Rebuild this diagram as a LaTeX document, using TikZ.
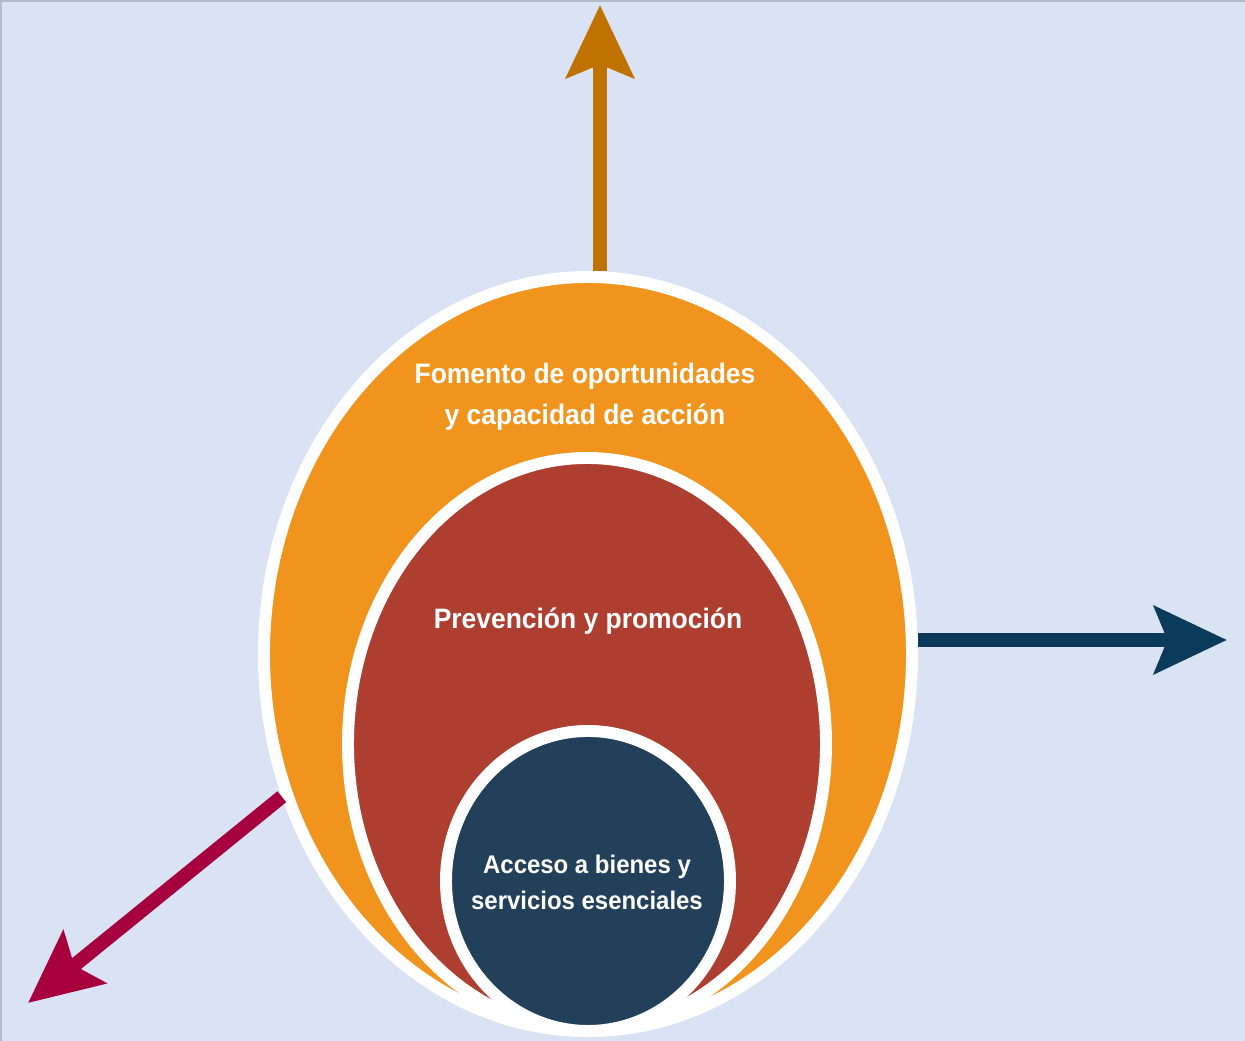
\documentclass[tikz,border=0pt]{standalone}
\usepackage{fontspec}
\newfontfamily\lblfont[FakeStretch=0.94]{Liberation Sans}
\usetikzlibrary{shapes.geometric, arrows.meta}
\definecolor{bgblue}{HTML}{DAE3F3}
\definecolor{frame}{HTML}{B4BCC8}
\definecolor{orangefill}{HTML}{F0941E}
\definecolor{redfill}{HTML}{AD3E30}
\definecolor{navyfill}{HTML}{22405A}
\definecolor{upcol}{HTML}{C07200}
\definecolor{rightcol}{HTML}{0C3A5A}
\definecolor{leftcol}{HTML}{A6003E}

\begin{document}
\begin{tikzpicture}[x=0.2mm, y=0.2mm,
    ring/.style={ellipse, draw=white, line width=6.8pt, inner sep=0pt},
    lbl/.style={text=white, align=center,
        font=\lblfont\bfseries\fontsize{16}{23.5}\selectfont},
    bigarrow/.style={line width=2.8mm,
        -{Stealth[length=14.5mm, width=13.4mm, inset=2.6mm]}}]
    \useasboundingbox (0,0) rectangle (1245,1041);
    \fill[bgblue] (0,0) rectangle (1245,1041);
    \draw[frame, line width=0.8mm] (0,0) -- (0,1041) -- (1245,1041);

    % nested ellipses
    \node[ring, fill=orangefill, minimum width=129.6mm, minimum height=150.8mm] (outer) at (588,387) {};
    \node[ring, fill=redfill, minimum width=95.6mm, minimum height=114.4mm] (middle) at (587,297) {};
    \node[ring, fill=navyfill, minimum width=56.8mm, minimum height=60mm] (inner) at (588,160) {};

    \node[lbl] (outerlbl) at (585,644) {Fomento de oportunidades\\y capacidad de acción};
    \node[lbl] (middlelbl) at (588,420) {Prevención y promoción};
    \node[lbl, font=\lblfont\bfseries\fontsize{14.5}{20.5}\selectfont] (innerlbl) at (587,159) {Acceso a bienes y\\servicios esenciales};

    % arrows
    \coordinate (uptip) at (600,1036);
    \coordinate (righttip) at (1227,401);
    \coordinate (lefttip) at (28,38);
    \draw[bigarrow, upcol] (outer.north -| uptip) -- (uptip);
    \draw[bigarrow, rightcol] (outer.east |- righttip) -- (righttip);
    \draw[bigarrow, leftcol] (outer.205) -- (lefttip);
\end{tikzpicture}
\end{document}
